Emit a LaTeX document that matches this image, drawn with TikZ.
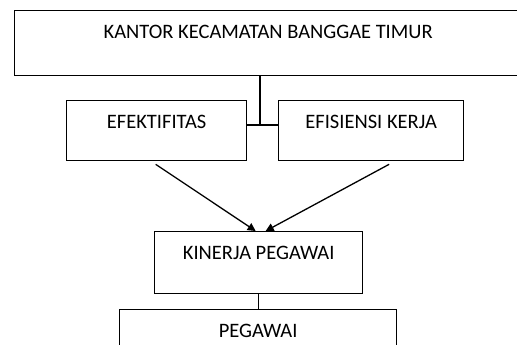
\documentclass[tikz,border=0pt]{standalone}
\usepackage{fontspec}
\setmainfont{Carlito}
\usetikzlibrary{arrows.meta,calc}
\begin{document}
\begin{tikzpicture}[x=1pt,y=-1pt,
  box/.style={draw=black,line width=1.3pt,rectangle,inner sep=0pt,anchor=north west},
  lbl/.style={anchor=base,inner sep=0pt,font=\fontsize{20.5}{22}\selectfont},
  conn/.style={draw=black,line width=1.3pt},
  arr/.style={conn,-{Triangle[length=8pt,width=8pt]}}]
\useasboundingbox (0,0) rectangle (517,345);
\node[box,minimum width=507pt,minimum height=65pt] (k) at (14,10) {};
\node[box,minimum width=180pt,minimum height=60pt] (e) at (66,100) {};
\node[box,minimum width=185pt,minimum height=60pt] (f) at (278,100) {};
\node[box,minimum width=208pt,minimum height=62pt] (p) at (154,231) {};
\node[box,minimum width=277pt,minimum height=50pt] (g) at (119,309) {};
\node[lbl] (kt) at ($(k.north)+(0,28.5)$) {KANTOR KECAMATAN BANGGAE TIMUR};
\node[lbl] (et) at ($(e.north)+(0,28.5)$) {EFEKTIFITAS};
\node[lbl] (ft) at ($(f.north)+(0,28.5)$) {EFISIENSI KERJA};
\node[lbl] (pt) at ($(p.north)+(0,28.5)$) {KINERJA PEGAWAI};
\node[lbl] (gt) at ($(g.north)+(0,28.5)$) {PEGAWAI};
\coordinate (j) at (260,125);
\draw[conn] (j |- k.south) -- (j);
\draw[conn] (e.east |- j) -- (f.west |- j);
\draw[arr] ($(e.south)+(-1,3)$) -- ($(p.north)+(-3,0)$);
\draw[arr] ($(f.south)+(18,3)$) -- ($(p.north)+(7,0)$);
\draw[conn] (p.south) -- (p.south |- g.north);
\end{tikzpicture}
\end{document}
